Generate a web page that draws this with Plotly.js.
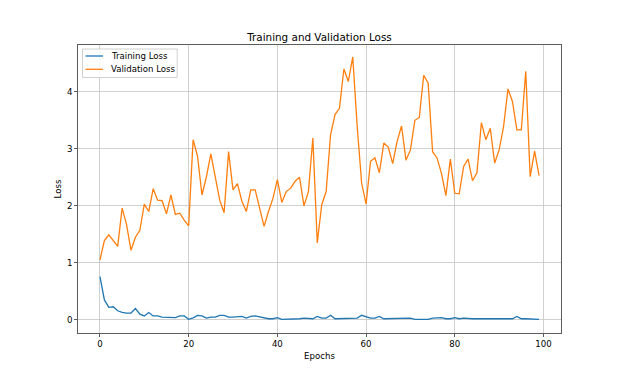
<!DOCTYPE html>
<html>
<head>
<meta charset="utf-8">
<script src="https://cdn.plot.ly/plotly-3.0.1.min.js"></script>
<style>html,body{margin:0;padding:0;background:#fff;}#chart{width:623px;height:374px;}</style>
</head>
<body>
<div id="chart"></div>
<script>
const epochs = Array.from({length: 100}, (_, i) => i);
const trainingLoss = [
  0.76, 0.35, 0.22, 0.23, 0.16, 0.13, 0.12, 0.12, 0.20, 0.10,
  0.07, 0.13, 0.07, 0.07, 0.05, 0.05, 0.05, 0.04, 0.07, 0.07,
  0.01, 0.035, 0.08, 0.07, 0.03, 0.05, 0.05, 0.08, 0.08, 0.05,
  0.05, 0.05, 0.06, 0.03, 0.06, 0.07, 0.05, 0.03, 0.02, 0.02,
  0.04, 0.01, 0.01, 0.01, 0.01, 0.02, 0.03, 0.03, 0.02, 0.06,
  0.03, 0.03, 0.08, 0.02, 0.02, 0.02, 0.03, 0.02, 0.03, 0.08,
  0.05, 0.03, 0.03, 0.06, 0.02, 0.02, 0.02, 0.03, 0.02, 0.02,
  0.03, 0.01, 0.01, 0.01, 0.01, 0.03, 0.04, 0.04, 0.02, 0.02,
  0.04, 0.02, 0.03, 0.02, 0.02, 0.02, 0.02, 0.02, 0.02, 0.02,
  0.02, 0.02, 0.02, 0.02, 0.06, 0.02, 0.02, 0.02, 0.02, 0.01
];
const validationLoss = [
  1.05, 1.39, 1.49, 1.39, 1.29, 1.96, 1.67, 1.22, 1.45, 1.57,
  2.03, 1.90, 2.30, 2.10, 2.09, 1.86, 2.19, 1.85, 1.87, 1.75,
  1.65, 3.16, 2.87, 2.19, 2.51, 2.91, 2.51, 2.10, 1.88, 2.95,
  2.28, 2.39, 2.08, 1.90, 2.28, 2.28, 1.96, 1.64, 1.90, 2.13,
  2.46, 2.06, 2.25, 2.31, 2.43, 2.50, 2.00, 2.25, 3.19, 1.35,
  2.02, 2.25, 3.25, 3.60, 3.71, 4.40, 4.18, 4.61, 3.39, 2.40,
  2.03, 2.78, 2.84, 2.58, 3.10, 3.03, 2.74, 3.13, 3.40, 2.80,
  2.98, 3.50, 3.55, 4.29, 4.15, 2.95, 2.84, 2.57, 2.18, 2.82,
  2.22, 2.21, 2.69, 2.82, 2.44, 2.58, 3.46, 3.16, 3.36, 2.75,
  2.98, 3.39, 4.05, 3.83, 3.33, 3.33, 4.36, 2.51, 2.96, 2.53
];
const seriesNames = ['Training Loss', 'Validation Loss'];
const seriesColors = ['#1f77b4', '#ff7f0e'];
const xTicks = [0, 20, 40, 60, 80, 100];
const yTicks = [0, 1, 2, 3, 4];

const font = {family: 'DejaVu Sans', size: 8.6, color: '#000'};
const traces = [trainingLoss, validationLoss].map((ys, i) => ({
  x: epochs, y: ys, name: seriesNames[i], type: 'scatter', mode: 'lines',
  line: {color: seriesColors[i], width: 1.3}
}));
const axisCommon = {
  showline: true, mirror: true, linecolor: '#333', linewidth: 0.8,
  ticks: 'outside', ticklen: 3, tickwidth: 0.8, tickcolor: '#333',
  showgrid: true, gridcolor: '#c4c4c4', gridwidth: 0.8, zeroline: false,
  tickfont: font
};
// custom matplotlib-like legend (paper coordinates)
const W = 482, H = 288;
const px = v => (v - 78) / W;
const py = v => (333 - v) / H;
const shapes = [
  {type: 'rect', xref: 'paper', yref: 'paper', x0: px(82.5), x1: px(177), y0: py(77.5), y1: py(49),
   fillcolor: 'rgba(255,255,255,0.8)', line: {color: '#d0d0d0', width: 1}, layer: 'above'}
];
const annotations = [];
seriesNames.forEach((n, i) => {
  const yy = 56 + i * 13.3;
  shapes.push({type: 'line', xref: 'paper', yref: 'paper', x0: px(85.5), x1: px(103), y0: py(yy), y1: py(yy),
               line: {color: seriesColors[i], width: 1.3}, layer: 'above'});
  annotations.push({text: n, xref: 'paper', yref: 'paper', x: px(109), y: py(yy), xanchor: 'left', yanchor: 'middle',
                    showarrow: false, font: font});
});
const layout = {
  width: 623, height: 374,
  margin: {l: 78, r: 62, t: 45, b: 41},
  paper_bgcolor: '#fff', plot_bgcolor: '#fff',
  font: font,
  title: {text: 'Training and Validation Loss', font: {family: 'DejaVu Sans', size: 10.4, color: '#000'},
          x: 0.5, xref: 'paper', xanchor: 'center', y: 1, yref: 'paper', yanchor: 'bottom', pad: {b: 4}},
  xaxis: Object.assign({}, axisCommon, {range: [-4.95, 103.95], tickvals: xTicks,
          title: {text: 'Epochs', font: font, standoff: 4}}),
  yaxis: Object.assign({}, axisCommon, {range: [-0.23, 4.82], tickvals: yTicks,
          title: {text: 'Loss', font: font, standoff: 3}}),
  showlegend: false,
  shapes: shapes,
  annotations: annotations
};
Plotly.newPlot('chart', traces, layout, {displayModeBar: false, staticPlot: true});
</script>
</body>
</html>
